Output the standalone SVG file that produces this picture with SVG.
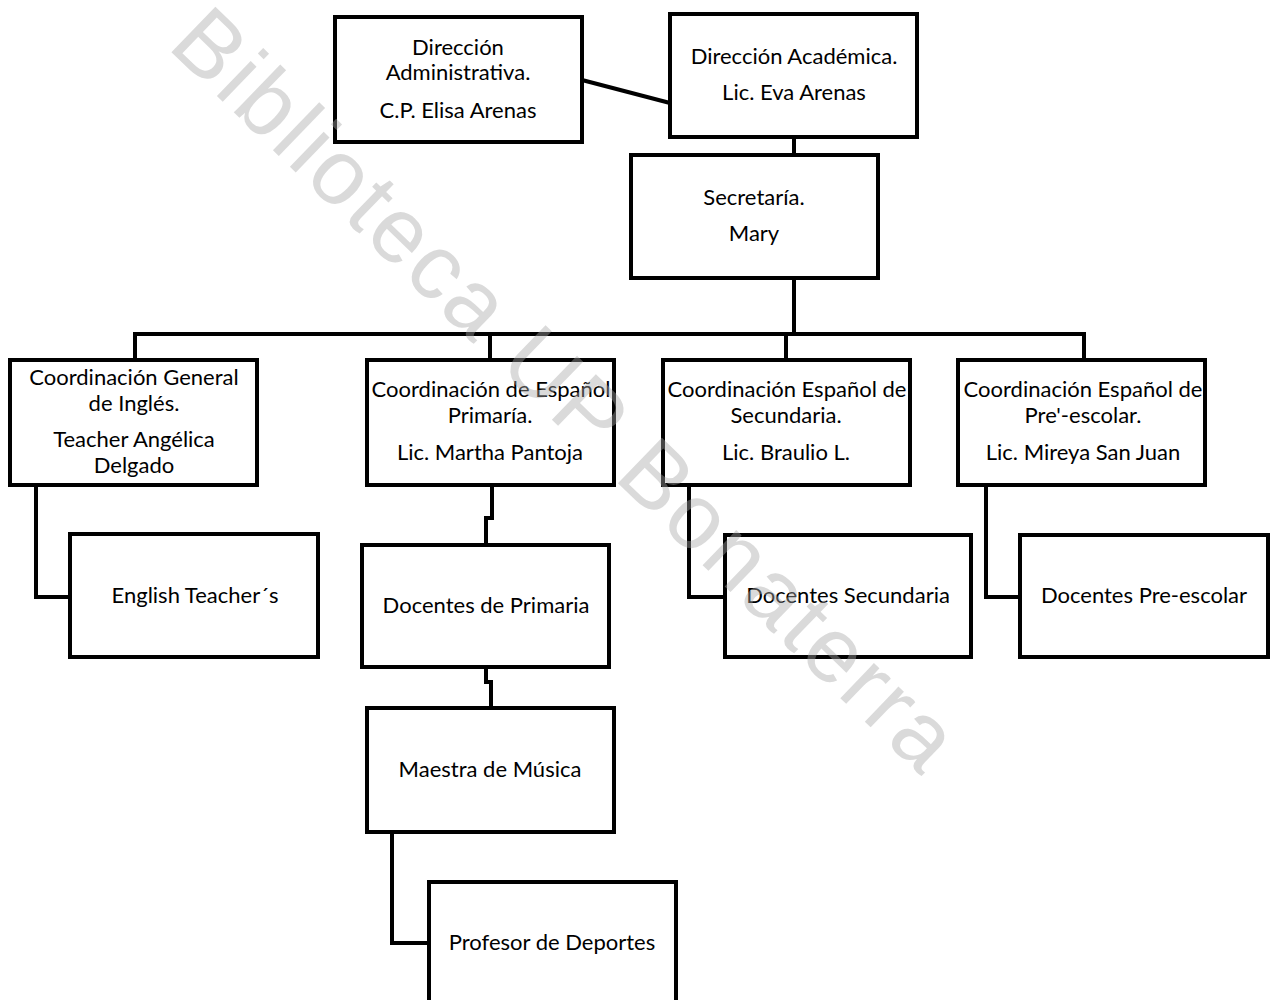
<svg xmlns="http://www.w3.org/2000/svg" width="1272" height="1000" viewBox="0 0 1272 1000">
<style>
.box{fill:#fff;stroke:#000;stroke-width:4}
.c{fill:none;stroke:#000;stroke-width:4}
text{font-family:Lato,"Open Sans","Liberation Sans",sans-serif;font-size:22px;fill:#000;text-anchor:middle}
.wm{font-family:"Liberation Sans",Arial,sans-serif;font-size:92px;fill:#a6a6a6;fill-opacity:0.42;text-anchor:start}
</style>
<rect width="1272" height="1000" fill="#fff"/>
<g id="connectors">
<path class="c" d="M582,80 L670,103"/>
<path class="c" d="M794,137 V155"/>
<path class="c" d="M794,278 V334"/>
<path class="c" d="M135,360 V334 H1084 V360"/>
<path class="c" d="M490,334 V360"/>
<path class="c" d="M786,334 V360"/>
<path class="c" d="M36,485 V597 H70"/>
<path class="c" d="M492,485 V518 H486 V545"/>
<path class="c" d="M486,667 V682 H491 V708"/>
<path class="c" d="M392,832 V943 H429"/>
<path class="c" d="M689,485 V597 H725"/>
<path class="c" d="M986,485 V597 H1020"/>
</g>
<g id="dir-admin"><rect class="box" x="335" y="17" width="247" height="125"/>
<text x="458" y="55">Dirección</text><text x="458" y="80">Administrativa.</text><text x="458" y="118">C.P. Elisa Arenas</text></g>
<g id="dir-acad"><rect class="box" x="670" y="14" width="247" height="123"/>
<text x="794" y="64">Dirección Académica.</text><text x="794" y="100">Lic. Eva Arenas</text></g>
<g id="secretaria"><rect class="box" x="631" y="155" width="247" height="123"/>
<text x="754" y="205">Secretaría.</text><text x="754" y="241">Mary</text></g>
<g id="coord-ingles"><rect class="box" x="10" y="360" width="247" height="125"/>
<text x="134" y="385">Coordinación General</text><text x="134" y="411">de Inglés.</text><text x="134" y="447">Teacher Angélica</text><text x="134" y="473">Delgado</text></g>
<g id="coord-primaria"><rect class="box" x="367" y="360" width="247" height="125"/>
<text x="491" y="397">Coordinación de Español</text><text x="490" y="423">Primaría.</text><text x="490" y="460">Lic. Martha Pantoja</text></g>
<g id="coord-secundaria"><rect class="box" x="663" y="360" width="247" height="125"/>
<text x="787" y="397">Coordinación Español de</text><text x="786" y="423">Secundaria.</text><text x="786" y="460">Lic. Braulio L.</text></g>
<g id="coord-preescolar"><rect class="box" x="958" y="360" width="247" height="125"/>
<text x="1083" y="397">Coordinación Español de</text><text x="1083" y="423">Pre'-escolar.</text><text x="1083" y="460">Lic. Mireya San Juan</text></g>
<g id="english-teachers"><rect class="box" x="70" y="534" width="248" height="123"/>
<text x="195" y="603">English Teacher´s</text></g>
<g id="docentes-primaria"><rect class="box" x="362" y="545" width="247" height="122"/>
<text x="486" y="613">Docentes de Primaria</text></g>
<g id="maestra-musica"><rect class="box" x="367" y="708" width="247" height="124"/>
<text x="490" y="777">Maestra de Música</text></g>
<g id="profesor-deportes"><rect class="box" x="429" y="882" width="247" height="130"/>
<text x="552" y="950">Profesor de Deportes</text></g>
<g id="docentes-secundaria"><rect class="box" x="725" y="535" width="246" height="122"/>
<text x="848" y="603">Docentes Secundaria</text></g>
<g id="docentes-preescolar"><rect class="box" x="1020" y="535" width="248" height="122"/>
<text x="1144" y="603">Docentes Pre-escolar</text></g>
<text class="wm" x="0" y="0" textLength="1050" lengthAdjust="spacing" transform="translate(166,47) rotate(44)">Biblioteca UP Bonaterra</text>
</svg>
